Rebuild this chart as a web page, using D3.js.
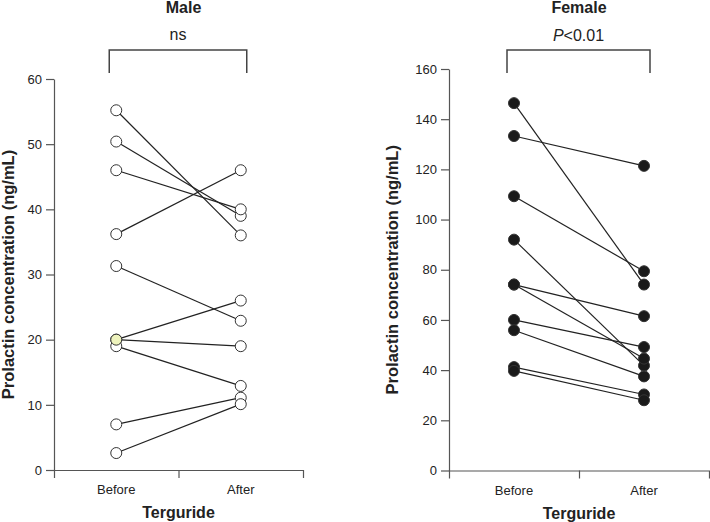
<!DOCTYPE html>
<html>
<head>
<meta charset="utf-8">
<script src="https://cdn.jsdelivr.net/npm/d3@7"></script>
<style>
  body { margin: 0; background: #fff; }
  svg { font-family: "Liberation Sans", Arial, Helvetica, sans-serif; }
</style>
</head>
<body>
<svg id="chart" width="710" height="522"></svg>
<script>
// ---- Data ----
const categories = ["Before", "After"];
const maleBefore = [55.2, 50.4, 46.0, 36.2, 31.3, 20.0, 20.0, 19.0, 7.0, 2.6];
const maleAfter  = [36.0, 39.0, 40.0, 46.0, 22.9, 26.0, 19.0, 12.9, 11.1, 10.1];
const femaleBefore = [146.4, 133.3, 109.3, 92.0, 74.1, 74.1, 60.0, 55.9, 41.2, 39.7];
const femaleAfter  = [74.1, 121.4, 79.4, 41.8, 61.5, 44.6, 49.2, 37.5, 30.3, 28.0];
const maleTicks = [0, 10, 20, 30, 40, 50, 60];
const femaleTicks = [0, 20, 40, 60, 80, 100, 120, 140, 160];
const maleTitle = "Male", femaleTitle = "Female";
const maleSig = "ns";
const yTitle = "Prolactin concentration (ng/mL)";
const xTitle = "Terguride";

const svg = d3.select("#chart");
const axisColor = "#555";
const textColor = "#222";

function panel(opts) {
  const g = svg.append("g");
  const x = d3.scalePoint().domain(categories).range([opts.x0, opts.x1]).padding(0.5);
  const y = d3.scaleLinear().domain([0, opts.ymax]).range([opts.yBottom, opts.yTop]);

  // y axis
  const ya = g.append("g")
    .attr("transform", `translate(${opts.x0},0)`)
    .call(d3.axisLeft(y).tickValues(opts.ticks).tickSize(8).tickSizeOuter(0).tickPadding(4));
  ya.selectAll("path, line").attr("stroke", axisColor).attr("stroke-width", 1.2);
  ya.selectAll("text").attr("font-size", 13).attr("fill", textColor)
    .attr("font-family", "'Liberation Sans', Arial, sans-serif");

  // x axis (domain with outer ticks, one tick at the middle)
  const xl = d3.scaleLinear().domain([0, 1]).range([opts.x0, opts.x1]);
  const xa = g.append("g")
    .attr("transform", `translate(0,${opts.yBottom})`)
    .call(d3.axisBottom(xl).tickValues([0.5]).tickSize(8).tickSizeOuter(8).tickFormat(""));
  xa.selectAll("path, line").attr("stroke", axisColor).attr("stroke-width", 1.2);

  // category labels
  g.selectAll(".cat").data(categories).enter().append("text")
    .attr("x", d => x(d)).attr("y", opts.yBottom + 24)
    .attr("text-anchor", "middle").attr("font-size", 13).attr("fill", textColor)
    .text(d => d);

  // axis titles
  const mid = (opts.x0 + opts.x1) / 2;
  g.append("text").attr("x", mid).attr("y", opts.yBottom + 48)
    .attr("text-anchor", "middle").attr("font-size", 16).attr("font-weight", "bold")
    .attr("fill", textColor).text(xTitle);
  g.append("text")
    .attr("transform", `translate(${opts.yTitleX},${(opts.yTop + opts.yBottom) / 2}) rotate(-90)`)
    .attr("text-anchor", "middle").attr("font-size", 16.5).attr("font-weight", "bold")
    .attr("fill", textColor).text(yTitle);

  // panel title
  g.append("text").attr("x", mid + opts.titleDx).attr("y", 13)
    .attr("text-anchor", "middle").attr("font-size", 16).attr("font-weight", "bold")
    .attr("fill", textColor).text(opts.title);

  // significance bracket
  const bl = x("Before") - 7, br = x("After") + 6;
  g.append("path")
    .attr("d", `M${bl},73 V50 H${br} V73`)
    .attr("fill", "none").attr("stroke", "#444").attr("stroke-width", 1.5);
  opts.sig(g, (bl + br) / 2);

  // pair lines
  const pairs = opts.before.map((b, i) => ({ b, a: opts.after[i], i }));
  g.selectAll(".pair").data(pairs).enter().append("line")
    .attr("x1", x("Before")).attr("y1", d => y(d.b))
    .attr("x2", x("After")).attr("y2", d => y(d.a))
    .attr("stroke", "#222").attr("stroke-width", 1.2);

  // points
  const pts = [];
  pairs.forEach(p => { pts.push({ c: "Before", v: p.b, i: p.i }); pts.push({ c: "After", v: p.a, i: p.i }); });
  const ordered = pts.slice().sort((p, q) => (opts.highlight(p) ? 1 : 0) - (opts.highlight(q) ? 1 : 0));
  g.selectAll(".pt").data(ordered).enter().append("circle")
    .attr("cx", d => x(d.c)).attr("cy", d => y(d.v)).attr("r", 5.5)
    .attr("fill", d => opts.highlight(d) ? "#eef3bd" : opts.fill)
    .attr("stroke", "#333").attr("stroke-width", 1);
}

panel({
  x0: 54, x1: 303, yTop: 79, yBottom: 470, ymax: 60, ticks: maleTicks,
  before: maleBefore, after: maleAfter, fill: "#fff", title: maleTitle, titleDx: 5,
  yTitleX: 13.5,
  highlight: d => d.c === "Before" && d.i === 5,
  sig: (g, cx) => g.append("text").attr("x", cx).attr("y", 40).attr("text-anchor", "middle")
    .attr("font-size", 16).attr("fill", textColor).text(maleSig)
});

panel({
  x0: 449, x1: 709, yTop: 69, yBottom: 470.5, ymax: 160, ticks: femaleTicks,
  before: femaleBefore, after: femaleAfter, fill: "#1a1a1a", title: femaleTitle, titleDx: 0,
  yTitleX: 398,
  highlight: d => false,
  sig: (g, cx) => {
    const t = g.append("text").attr("x", cx).attr("y", 40.5).attr("text-anchor", "middle")
      .attr("font-size", 16).attr("fill", textColor);
    t.append("tspan").attr("font-style", "italic").text("P");
    t.append("tspan").text("<0.01");
  }
});
</script>
</body>
</html>
